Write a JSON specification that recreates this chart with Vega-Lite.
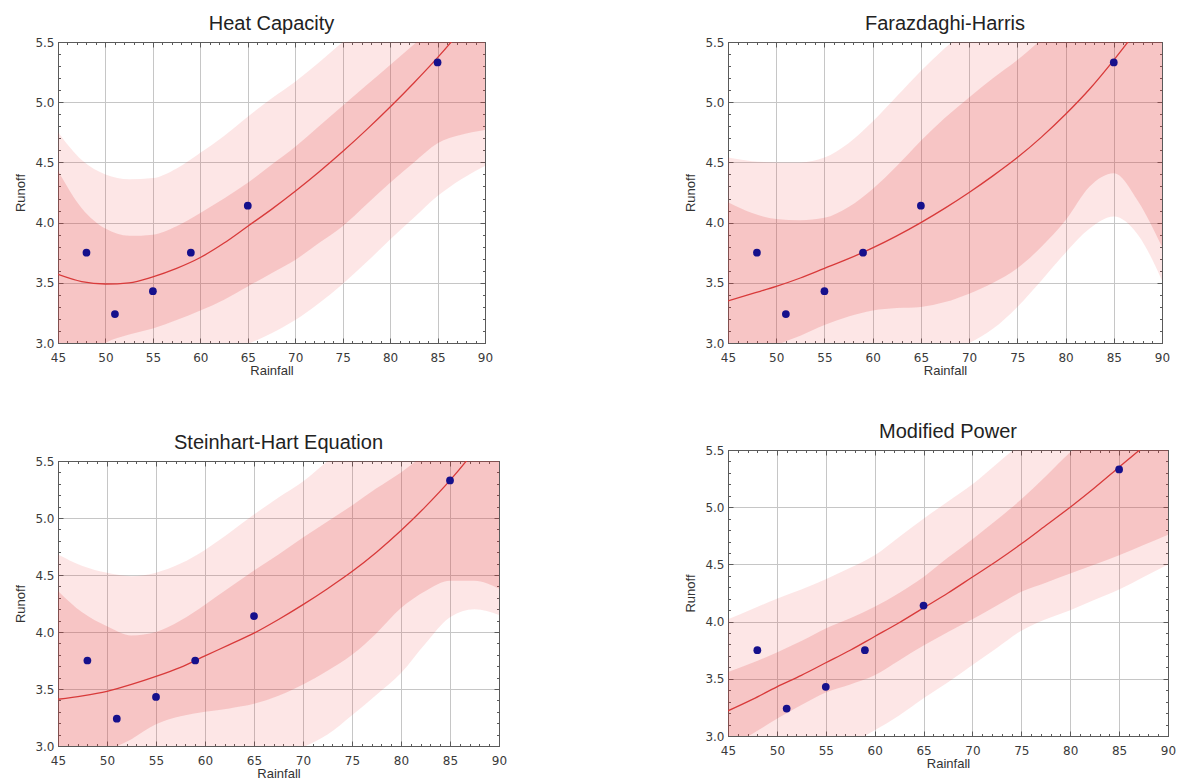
{
  "$schema": "https://vega.github.io/schema/vega-lite/v6.json",
  "background": "white",
  "padding": {"left": 14, "top": 14, "right": 0, "bottom": 0},
  "config": {
    "font": "Liberation Sans",
    "view": {"stroke": null},
    "title": {"font": "Liberation Sans", "fontSize": 20, "fontWeight": "normal", "color": "#222222", "offset": 2},
    "axis": {
      "labelFont": "DejaVu Sans", "labelFontSize": 12, "labelColor": "#3a3a3a",
      "titleFont": "Liberation Sans", "titleFontSize": 13, "titleFontWeight": "normal", "titleColor": "#333333",
      "gridColor": "#c6c6c6", "gridWidth": 1, "domainColor": "#5a5a5a", "tickColor": "#5a5a5a"
    }
  },
  "datasets": {
    "pts": [
      {"Rainfall": 48, "Runoff": 3.75}, {"Rainfall": 51, "Runoff": 3.24}, {"Rainfall": 55, "Runoff": 3.43},
      {"Rainfall": 59, "Runoff": 3.75}, {"Rainfall": 65, "Runoff": 4.14}, {"Rainfall": 85, "Runoff": 5.33}
    ],
    "p1": [
      {"Rainfall": 45, "fit": 3.57, "cl": 2.70, "cu": 4.43, "pl": 2.40, "pu": 4.75},
      {"Rainfall": 47.5, "fit": 3.51, "cl": 2.85, "cu": 4.12, "pl": 2.35, "pu": 4.52},
      {"Rainfall": 50, "fit": 3.49, "cl": 3.00, "cu": 3.95, "pl": 2.40, "pu": 4.40},
      {"Rainfall": 52.5, "fit": 3.50, "cl": 3.07, "cu": 3.89, "pl": 2.50, "pu": 4.36},
      {"Rainfall": 55, "fit": 3.55, "cl": 3.12, "cu": 3.90, "pl": 2.60, "pu": 4.37},
      {"Rainfall": 57.5, "fit": 3.62, "cl": 3.19, "cu": 3.97, "pl": 2.70, "pu": 4.45},
      {"Rainfall": 60, "fit": 3.71, "cl": 3.27, "cu": 4.08, "pl": 2.80, "pu": 4.58},
      {"Rainfall": 62.5, "fit": 3.83, "cl": 3.36, "cu": 4.20, "pl": 2.90, "pu": 4.72},
      {"Rainfall": 65, "fit": 3.97, "cl": 3.47, "cu": 4.33, "pl": 2.99, "pu": 4.88},
      {"Rainfall": 67.5, "fit": 4.11, "cl": 3.58, "cu": 4.48, "pl": 3.08, "pu": 5.03},
      {"Rainfall": 70, "fit": 4.26, "cl": 3.69, "cu": 4.63, "pl": 3.19, "pu": 5.17},
      {"Rainfall": 72.5, "fit": 4.42, "cl": 3.83, "cu": 4.80, "pl": 3.33, "pu": 5.33},
      {"Rainfall": 75, "fit": 4.59, "cl": 3.97, "cu": 4.97, "pl": 3.49, "pu": 5.50},
      {"Rainfall": 77.5, "fit": 4.77, "cl": 4.15, "cu": 5.14, "pl": 3.67, "pu": 5.66},
      {"Rainfall": 80, "fit": 4.96, "cl": 4.33, "cu": 5.31, "pl": 3.86, "pu": 5.82},
      {"Rainfall": 82.5, "fit": 5.16, "cl": 4.50, "cu": 5.48, "pl": 4.04, "pu": 5.98},
      {"Rainfall": 85, "fit": 5.37, "cl": 4.66, "cu": 5.65, "pl": 4.22, "pu": 6.14},
      {"Rainfall": 87.5, "fit": 5.60, "cl": 4.73, "cu": 5.82, "pl": 4.36, "pu": 6.30},
      {"Rainfall": 90, "fit": 5.85, "cl": 4.77, "cu": 6.00, "pl": 4.47, "pu": 6.45}
    ],
    "p2": [
      {"Rainfall": 45, "fit": 3.35, "cl": 2.53, "cu": 4.17, "pl": 2.10, "pu": 4.54},
      {"Rainfall": 47.5, "fit": 3.41, "cl": 2.75, "cu": 4.08, "pl": 2.25, "pu": 4.51},
      {"Rainfall": 50, "fit": 3.47, "cl": 2.97, "cu": 4.03, "pl": 2.40, "pu": 4.50},
      {"Rainfall": 52.5, "fit": 3.54, "cl": 3.06, "cu": 4.02, "pl": 2.50, "pu": 4.50},
      {"Rainfall": 55, "fit": 3.62, "cl": 3.15, "cu": 4.04, "pl": 2.60, "pu": 4.54},
      {"Rainfall": 57.5, "fit": 3.70, "cl": 3.22, "cu": 4.13, "pl": 2.68, "pu": 4.66},
      {"Rainfall": 60, "fit": 3.79, "cl": 3.27, "cu": 4.28, "pl": 2.75, "pu": 4.84},
      {"Rainfall": 62.5, "fit": 3.89, "cl": 3.29, "cu": 4.47, "pl": 2.80, "pu": 5.05},
      {"Rainfall": 65, "fit": 4.00, "cl": 3.30, "cu": 4.68, "pl": 2.86, "pu": 5.26},
      {"Rainfall": 67.5, "fit": 4.12, "cl": 3.34, "cu": 4.87, "pl": 2.93, "pu": 5.45},
      {"Rainfall": 70, "fit": 4.25, "cl": 3.41, "cu": 5.04, "pl": 3.00, "pu": 5.62},
      {"Rainfall": 72.5, "fit": 4.39, "cl": 3.50, "cu": 5.20, "pl": 3.12, "pu": 5.80},
      {"Rainfall": 75, "fit": 4.54, "cl": 3.62, "cu": 5.35, "pl": 3.30, "pu": 5.95},
      {"Rainfall": 77.5, "fit": 4.71, "cl": 3.80, "cu": 5.52, "pl": 3.52, "pu": 6.10},
      {"Rainfall": 80, "fit": 4.90, "cl": 4.02, "cu": 5.68, "pl": 3.75, "pu": 6.25},
      {"Rainfall": 82.5, "fit": 5.11, "cl": 4.30, "cu": 5.82, "pl": 3.95, "pu": 6.40},
      {"Rainfall": 85, "fit": 5.35, "cl": 4.41, "cu": 5.95, "pl": 4.05, "pu": 6.55},
      {"Rainfall": 87.5, "fit": 5.61, "cl": 4.18, "cu": 6.10, "pl": 3.90, "pu": 6.70},
      {"Rainfall": 90, "fit": 5.89, "cl": 3.80, "cu": 6.30, "pl": 3.52, "pu": 6.85}
    ],
    "p3": [
      {"Rainfall": 45, "fit": 3.41, "cl": 2.55, "cu": 4.36, "pl": 2.20, "pu": 4.68},
      {"Rainfall": 47.5, "fit": 3.44, "cl": 2.78, "cu": 4.17, "pl": 2.30, "pu": 4.58},
      {"Rainfall": 50, "fit": 3.48, "cl": 2.95, "cu": 4.05, "pl": 2.40, "pu": 4.52},
      {"Rainfall": 52.5, "fit": 3.54, "cl": 3.06, "cu": 3.97, "pl": 2.50, "pu": 4.49},
      {"Rainfall": 55, "fit": 3.61, "cl": 3.19, "cu": 4.00, "pl": 2.60, "pu": 4.52},
      {"Rainfall": 57.5, "fit": 3.69, "cl": 3.26, "cu": 4.10, "pl": 2.68, "pu": 4.60},
      {"Rainfall": 60, "fit": 3.79, "cl": 3.30, "cu": 4.24, "pl": 2.75, "pu": 4.72},
      {"Rainfall": 62.5, "fit": 3.89, "cl": 3.33, "cu": 4.39, "pl": 2.80, "pu": 4.87},
      {"Rainfall": 65, "fit": 3.99, "cl": 3.37, "cu": 4.54, "pl": 2.85, "pu": 5.03},
      {"Rainfall": 67.5, "fit": 4.11, "cl": 3.44, "cu": 4.68, "pl": 2.92, "pu": 5.18},
      {"Rainfall": 70, "fit": 4.24, "cl": 3.54, "cu": 4.83, "pl": 2.99, "pu": 5.32},
      {"Rainfall": 72.5, "fit": 4.38, "cl": 3.66, "cu": 4.97, "pl": 3.10, "pu": 5.50},
      {"Rainfall": 75, "fit": 4.53, "cl": 3.80, "cu": 5.11, "pl": 3.27, "pu": 5.68},
      {"Rainfall": 77.5, "fit": 4.70, "cl": 3.99, "cu": 5.26, "pl": 3.45, "pu": 5.85},
      {"Rainfall": 80, "fit": 4.89, "cl": 4.21, "cu": 5.40, "pl": 3.64, "pu": 6.00},
      {"Rainfall": 82.5, "fit": 5.10, "cl": 4.36, "cu": 5.56, "pl": 3.90, "pu": 6.15},
      {"Rainfall": 85, "fit": 5.33, "cl": 4.45, "cu": 5.70, "pl": 4.13, "pu": 6.30},
      {"Rainfall": 87.5, "fit": 5.59, "cl": 4.45, "cu": 5.85, "pl": 4.20, "pu": 6.45},
      {"Rainfall": 90, "fit": 5.88, "cl": 4.38, "cu": 6.00, "pl": 4.15, "pu": 6.60}
    ],
    "p4": [
      {"Rainfall": 45, "fit": 3.22, "cl": 2.92, "cu": 3.56, "pl": 2.40, "pu": 4.02},
      {"Rainfall": 47.5, "fit": 3.32, "cl": 3.02, "cu": 3.64, "pl": 2.50, "pu": 4.11},
      {"Rainfall": 50, "fit": 3.43, "cl": 3.15, "cu": 3.73, "pl": 2.62, "pu": 4.20},
      {"Rainfall": 52.5, "fit": 3.53, "cl": 3.27, "cu": 3.83, "pl": 2.74, "pu": 4.28},
      {"Rainfall": 55, "fit": 3.64, "cl": 3.38, "cu": 3.94, "pl": 2.84, "pu": 4.37},
      {"Rainfall": 57.5, "fit": 3.75, "cl": 3.45, "cu": 4.03, "pl": 2.93, "pu": 4.47},
      {"Rainfall": 60, "fit": 3.87, "cl": 3.53, "cu": 4.13, "pl": 3.05, "pu": 4.58},
      {"Rainfall": 62.5, "fit": 3.99, "cl": 3.66, "cu": 4.25, "pl": 3.18, "pu": 4.74},
      {"Rainfall": 65, "fit": 4.12, "cl": 3.79, "cu": 4.39, "pl": 3.33, "pu": 4.90},
      {"Rainfall": 67.5, "fit": 4.25, "cl": 3.91, "cu": 4.56, "pl": 3.47, "pu": 5.05},
      {"Rainfall": 70, "fit": 4.39, "cl": 4.02, "cu": 4.72, "pl": 3.62, "pu": 5.20},
      {"Rainfall": 72.5, "fit": 4.53, "cl": 4.14, "cu": 4.89, "pl": 3.77, "pu": 5.38},
      {"Rainfall": 75, "fit": 4.68, "cl": 4.26, "cu": 5.07, "pl": 3.92, "pu": 5.56},
      {"Rainfall": 77.5, "fit": 4.84, "cl": 4.34, "cu": 5.27, "pl": 4.02, "pu": 5.74},
      {"Rainfall": 80, "fit": 5.00, "cl": 4.42, "cu": 5.48, "pl": 4.10, "pu": 5.92},
      {"Rainfall": 82.5, "fit": 5.17, "cl": 4.50, "cu": 5.65, "pl": 4.19, "pu": 6.08},
      {"Rainfall": 85, "fit": 5.35, "cl": 4.58, "cu": 5.80, "pl": 4.28, "pu": 6.24},
      {"Rainfall": 87.5, "fit": 5.53, "cl": 4.67, "cu": 5.95, "pl": 4.39, "pu": 6.40},
      {"Rainfall": 90, "fit": 5.72, "cl": 4.76, "cu": 6.10, "pl": 4.50, "pu": 6.55}
    ]
  },
  "spacing": 177,
  "hconcat": [
    {
      "spacing": 118,
      "bounds": "flush",
      "vconcat": [
        {
          "title": "Heat Capacity",
          "width": 427, "height": 301,
          "data": {"name": "p1"},
          "layer": [
            {"mark": {"type": "area", "clip": true, "interpolate": "monotone", "color": "#f04040", "opacity": 0.13},
             "encoding": {
               "x": {"field": "Rainfall", "type": "quantitative", "scale": {"domain": [45, 90], "nice": false, "zero": false},
                     "axis": {"orient": "bottom", "values": [45,50,55,60,65,70,75,80,85,90], "format": "d", "title": "Rainfall", "tickSize": -5, "labelPadding": 14, "grid": true, "domain": true, "titlePadding": 1, "labelFlush": false}},
               "y": {"field": "pl", "type": "quantitative", "scale": {"domain": [3, 5.5], "nice": false, "zero": false},
                     "axis": {"orient": "left", "values": [3,3.5,4,4.5,5,5.5], "format": ".1f", "title": "Runoff", "tickSize": -5, "labelPadding": 9, "grid": true, "domain": true, "titlePadding": 7, "labelFlush": false}},
               "y2": {"field": "pu"}}},
            {"mark": {"type": "area", "clip": true, "interpolate": "monotone", "color": "#e03030", "opacity": 0.18},
             "encoding": {
               "x": {"field": "Rainfall", "type": "quantitative", "axis": {"orient": "top", "values": [45,50,55,60,65,70,75,80,85,90], "tickSize": -5, "labels": false, "grid": false, "domain": true, "title": null}},
               "y": {"field": "cl", "type": "quantitative", "scale": {"domain": [3, 5.5], "nice": false, "zero": false}, "axis": {"orient": "right", "values": [3,3.5,4,4.5,5,5.5], "tickSize": -5, "labels": false, "grid": false, "domain": true, "title": null}},
               "y2": {"field": "cu"}}},
            {"mark": {"type": "line", "clip": true, "interpolate": "monotone", "color": "#d83a3a", "strokeWidth": 1.3},
             "encoding": {
               "x": {"field": "Rainfall", "type": "quantitative", "axis": {"orient": "bottom", "values": [45,46,47,48,49,50,51,52,53,54,55,56,57,58,59,60,61,62,63,64,65,66,67,68,69,70,71,72,73,74,75,76,77,78,79,80,81,82,83,84,85,86,87,88,89,90], "tickSize": -2.5, "labels": false, "grid": false, "domain": false, "title": null}},
               "y": {"field": "fit", "type": "quantitative", "scale": {"domain": [3, 5.5], "nice": false, "zero": false}, "axis": {"orient": "left", "values": [3,3.1,3.2,3.3,3.4,3.5,3.6,3.7,3.8,3.9,4,4.1,4.2,4.3,4.4,4.5,4.6,4.7,4.8,4.9,5,5.1,5.2,5.3,5.4,5.5], "tickSize": -2.5, "labels": false, "grid": false, "domain": false, "title": null}}}},
            {"data": {"name": "pts"},
             "mark": {"type": "point", "filled": true, "size": 60, "color": "#16108c", "opacity": 1},
             "encoding": {
               "x": {"field": "Rainfall", "type": "quantitative", "axis": {"orient": "top", "values": [45,46,47,48,49,50,51,52,53,54,55,56,57,58,59,60,61,62,63,64,65,66,67,68,69,70,71,72,73,74,75,76,77,78,79,80,81,82,83,84,85,86,87,88,89,90], "tickSize": -2.5, "labels": false, "grid": false, "domain": false, "title": null}},
               "y": {"field": "Runoff", "type": "quantitative", "scale": {"domain": [3, 5.5], "nice": false, "zero": false}, "axis": {"orient": "right", "values": [3,3.1,3.2,3.3,3.4,3.5,3.6,3.7,3.8,3.9,4,4.1,4.2,4.3,4.4,4.5,4.6,4.7,4.8,4.9,5,5.1,5.2,5.3,5.4,5.5], "tickSize": -2.5, "labels": false, "grid": false, "domain": false, "title": null}}}}
          ],
          "resolve": {"axis": {"x": "independent", "y": "independent"}}
        },
        {
          "title": "Steinhart-Hart Equation",
          "width": 441, "height": 285,
          "data": {"name": "p3"},
          "layer": [
            {"mark": {"type": "area", "clip": true, "interpolate": "monotone", "color": "#f04040", "opacity": 0.13},
             "encoding": {
               "x": {"field": "Rainfall", "type": "quantitative", "scale": {"domain": [45, 90], "nice": false, "zero": false},
                     "axis": {"orient": "bottom", "values": [45,50,55,60,65,70,75,80,85,90], "format": "d", "title": "Rainfall", "tickSize": -5, "labelPadding": 14, "grid": true, "domain": true, "titlePadding": 1, "labelFlush": false}},
               "y": {"field": "pl", "type": "quantitative", "scale": {"domain": [3, 5.5], "nice": false, "zero": false},
                     "axis": {"orient": "left", "values": [3,3.5,4,4.5,5,5.5], "format": ".1f", "title": "Runoff", "tickSize": -5, "labelPadding": 9, "grid": true, "domain": true, "titlePadding": 7, "labelFlush": false}},
               "y2": {"field": "pu"}}},
            {"mark": {"type": "area", "clip": true, "interpolate": "monotone", "color": "#e03030", "opacity": 0.18},
             "encoding": {
               "x": {"field": "Rainfall", "type": "quantitative", "axis": {"orient": "top", "values": [45,50,55,60,65,70,75,80,85,90], "tickSize": -5, "labels": false, "grid": false, "domain": true, "title": null}},
               "y": {"field": "cl", "type": "quantitative", "scale": {"domain": [3, 5.5], "nice": false, "zero": false}, "axis": {"orient": "right", "values": [3,3.5,4,4.5,5,5.5], "tickSize": -5, "labels": false, "grid": false, "domain": true, "title": null}},
               "y2": {"field": "cu"}}},
            {"mark": {"type": "line", "clip": true, "interpolate": "monotone", "color": "#d83a3a", "strokeWidth": 1.3},
             "encoding": {
               "x": {"field": "Rainfall", "type": "quantitative", "axis": {"orient": "bottom", "values": [45,46,47,48,49,50,51,52,53,54,55,56,57,58,59,60,61,62,63,64,65,66,67,68,69,70,71,72,73,74,75,76,77,78,79,80,81,82,83,84,85,86,87,88,89,90], "tickSize": -2.5, "labels": false, "grid": false, "domain": false, "title": null}},
               "y": {"field": "fit", "type": "quantitative", "scale": {"domain": [3, 5.5], "nice": false, "zero": false}, "axis": {"orient": "left", "values": [3,3.1,3.2,3.3,3.4,3.5,3.6,3.7,3.8,3.9,4,4.1,4.2,4.3,4.4,4.5,4.6,4.7,4.8,4.9,5,5.1,5.2,5.3,5.4,5.5], "tickSize": -2.5, "labels": false, "grid": false, "domain": false, "title": null}}}},
            {"data": {"name": "pts"},
             "mark": {"type": "point", "filled": true, "size": 60, "color": "#16108c", "opacity": 1},
             "encoding": {
               "x": {"field": "Rainfall", "type": "quantitative", "axis": {"orient": "top", "values": [45,46,47,48,49,50,51,52,53,54,55,56,57,58,59,60,61,62,63,64,65,66,67,68,69,70,71,72,73,74,75,76,77,78,79,80,81,82,83,84,85,86,87,88,89,90], "tickSize": -2.5, "labels": false, "grid": false, "domain": false, "title": null}},
               "y": {"field": "Runoff", "type": "quantitative", "scale": {"domain": [3, 5.5], "nice": false, "zero": false}, "axis": {"orient": "right", "values": [3,3.1,3.2,3.3,3.4,3.5,3.6,3.7,3.8,3.9,4,4.1,4.2,4.3,4.4,4.5,4.6,4.7,4.8,4.9,5,5.1,5.2,5.3,5.4,5.5], "tickSize": -2.5, "labels": false, "grid": false, "domain": false, "title": null}}}}
          ],
          "resolve": {"axis": {"x": "independent", "y": "independent"}}
        }
      ]
    },
    {
      "spacing": 107,
      "bounds": "flush",
      "vconcat": [
        {
          "title": "Farazdaghi-Harris",
          "width": 434, "height": 301,
          "data": {"name": "p2"},
          "layer": [
            {"mark": {"type": "area", "clip": true, "interpolate": "monotone", "color": "#f04040", "opacity": 0.13},
             "encoding": {
               "x": {"field": "Rainfall", "type": "quantitative", "scale": {"domain": [45, 90], "nice": false, "zero": false},
                     "axis": {"orient": "bottom", "values": [45,50,55,60,65,70,75,80,85,90], "format": "d", "title": "Rainfall", "tickSize": -5, "labelPadding": 14, "grid": true, "domain": true, "titlePadding": 1, "labelFlush": false}},
               "y": {"field": "pl", "type": "quantitative", "scale": {"domain": [3, 5.5], "nice": false, "zero": false},
                     "axis": {"orient": "left", "values": [3,3.5,4,4.5,5,5.5], "format": ".1f", "title": "Runoff", "tickSize": -5, "labelPadding": 9, "grid": true, "domain": true, "titlePadding": 7, "labelFlush": false}},
               "y2": {"field": "pu"}}},
            {"mark": {"type": "area", "clip": true, "interpolate": "monotone", "color": "#e03030", "opacity": 0.18},
             "encoding": {
               "x": {"field": "Rainfall", "type": "quantitative", "axis": {"orient": "top", "values": [45,50,55,60,65,70,75,80,85,90], "tickSize": -5, "labels": false, "grid": false, "domain": true, "title": null}},
               "y": {"field": "cl", "type": "quantitative", "scale": {"domain": [3, 5.5], "nice": false, "zero": false}, "axis": {"orient": "right", "values": [3,3.5,4,4.5,5,5.5], "tickSize": -5, "labels": false, "grid": false, "domain": true, "title": null}},
               "y2": {"field": "cu"}}},
            {"mark": {"type": "line", "clip": true, "interpolate": "monotone", "color": "#d83a3a", "strokeWidth": 1.3},
             "encoding": {
               "x": {"field": "Rainfall", "type": "quantitative", "axis": {"orient": "bottom", "values": [45,46,47,48,49,50,51,52,53,54,55,56,57,58,59,60,61,62,63,64,65,66,67,68,69,70,71,72,73,74,75,76,77,78,79,80,81,82,83,84,85,86,87,88,89,90], "tickSize": -2.5, "labels": false, "grid": false, "domain": false, "title": null}},
               "y": {"field": "fit", "type": "quantitative", "scale": {"domain": [3, 5.5], "nice": false, "zero": false}, "axis": {"orient": "left", "values": [3,3.1,3.2,3.3,3.4,3.5,3.6,3.7,3.8,3.9,4,4.1,4.2,4.3,4.4,4.5,4.6,4.7,4.8,4.9,5,5.1,5.2,5.3,5.4,5.5], "tickSize": -2.5, "labels": false, "grid": false, "domain": false, "title": null}}}},
            {"data": {"name": "pts"},
             "mark": {"type": "point", "filled": true, "size": 60, "color": "#16108c", "opacity": 1},
             "encoding": {
               "x": {"field": "Rainfall", "type": "quantitative", "axis": {"orient": "top", "values": [45,46,47,48,49,50,51,52,53,54,55,56,57,58,59,60,61,62,63,64,65,66,67,68,69,70,71,72,73,74,75,76,77,78,79,80,81,82,83,84,85,86,87,88,89,90], "tickSize": -2.5, "labels": false, "grid": false, "domain": false, "title": null}},
               "y": {"field": "Runoff", "type": "quantitative", "scale": {"domain": [3, 5.5], "nice": false, "zero": false}, "axis": {"orient": "right", "values": [3,3.1,3.2,3.3,3.4,3.5,3.6,3.7,3.8,3.9,4,4.1,4.2,4.3,4.4,4.5,4.6,4.7,4.8,4.9,5,5.1,5.2,5.3,5.4,5.5], "tickSize": -2.5, "labels": false, "grid": false, "domain": false, "title": null}}}}
          ],
          "resolve": {"axis": {"x": "independent", "y": "independent"}}
        },
        {
          "title": "Modified Power",
          "width": 440, "height": 286,
          "data": {"name": "p4"},
          "layer": [
            {"mark": {"type": "area", "clip": true, "interpolate": "monotone", "color": "#f04040", "opacity": 0.13},
             "encoding": {
               "x": {"field": "Rainfall", "type": "quantitative", "scale": {"domain": [45, 90], "nice": false, "zero": false},
                     "axis": {"orient": "bottom", "values": [45,50,55,60,65,70,75,80,85,90], "format": "d", "title": "Rainfall", "tickSize": -5, "labelPadding": 14, "grid": true, "domain": true, "titlePadding": 1, "labelFlush": false}},
               "y": {"field": "pl", "type": "quantitative", "scale": {"domain": [3, 5.5], "nice": false, "zero": false},
                     "axis": {"orient": "left", "values": [3,3.5,4,4.5,5,5.5], "format": ".1f", "title": "Runoff", "tickSize": -5, "labelPadding": 9, "grid": true, "domain": true, "titlePadding": 7, "labelFlush": false}},
               "y2": {"field": "pu"}}},
            {"mark": {"type": "area", "clip": true, "interpolate": "monotone", "color": "#e03030", "opacity": 0.18},
             "encoding": {
               "x": {"field": "Rainfall", "type": "quantitative", "axis": {"orient": "top", "values": [45,50,55,60,65,70,75,80,85,90], "tickSize": -5, "labels": false, "grid": false, "domain": true, "title": null}},
               "y": {"field": "cl", "type": "quantitative", "scale": {"domain": [3, 5.5], "nice": false, "zero": false}, "axis": {"orient": "right", "values": [3,3.5,4,4.5,5,5.5], "tickSize": -5, "labels": false, "grid": false, "domain": true, "title": null}},
               "y2": {"field": "cu"}}},
            {"mark": {"type": "line", "clip": true, "interpolate": "monotone", "color": "#d83a3a", "strokeWidth": 1.3},
             "encoding": {
               "x": {"field": "Rainfall", "type": "quantitative", "axis": {"orient": "bottom", "values": [45,46,47,48,49,50,51,52,53,54,55,56,57,58,59,60,61,62,63,64,65,66,67,68,69,70,71,72,73,74,75,76,77,78,79,80,81,82,83,84,85,86,87,88,89,90], "tickSize": -2.5, "labels": false, "grid": false, "domain": false, "title": null}},
               "y": {"field": "fit", "type": "quantitative", "scale": {"domain": [3, 5.5], "nice": false, "zero": false}, "axis": {"orient": "left", "values": [3,3.1,3.2,3.3,3.4,3.5,3.6,3.7,3.8,3.9,4,4.1,4.2,4.3,4.4,4.5,4.6,4.7,4.8,4.9,5,5.1,5.2,5.3,5.4,5.5], "tickSize": -2.5, "labels": false, "grid": false, "domain": false, "title": null}}}},
            {"data": {"name": "pts"},
             "mark": {"type": "point", "filled": true, "size": 60, "color": "#16108c", "opacity": 1},
             "encoding": {
               "x": {"field": "Rainfall", "type": "quantitative", "axis": {"orient": "top", "values": [45,46,47,48,49,50,51,52,53,54,55,56,57,58,59,60,61,62,63,64,65,66,67,68,69,70,71,72,73,74,75,76,77,78,79,80,81,82,83,84,85,86,87,88,89,90], "tickSize": -2.5, "labels": false, "grid": false, "domain": false, "title": null}},
               "y": {"field": "Runoff", "type": "quantitative", "scale": {"domain": [3, 5.5], "nice": false, "zero": false}, "axis": {"orient": "right", "values": [3,3.1,3.2,3.3,3.4,3.5,3.6,3.7,3.8,3.9,4,4.1,4.2,4.3,4.4,4.5,4.6,4.7,4.8,4.9,5,5.1,5.2,5.3,5.4,5.5], "tickSize": -2.5, "labels": false, "grid": false, "domain": false, "title": null}}}}
          ],
          "resolve": {"axis": {"x": "independent", "y": "independent"}}
        }
      ]
    }
  ]
}
